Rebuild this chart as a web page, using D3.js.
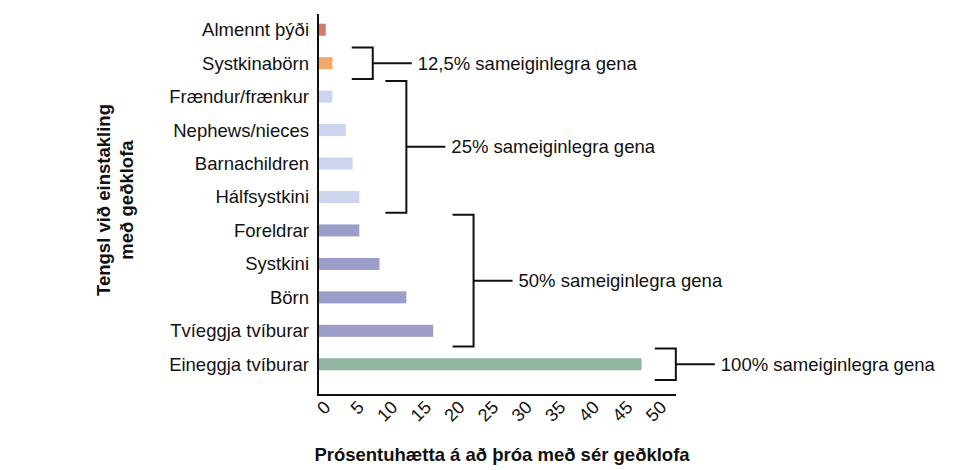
<!DOCTYPE html>
<meta charset="utf-8">
<script src="https://d3js.org/d3.v7.min.js"></script>
<style>
  body { margin: 0; background: #fff; }
  text { font-family: "Liberation Sans", Arial, sans-serif; fill: #111; }
</style>
<div id="chart"></div>
<script>
const categories = ["Almennt þýði", "Systkinabörn", "Frændur/frænkur", "Nephews/nieces", "Barnachildren",
  "Hálfsystkini", "Foreldrar", "Systkini", "Börn", "Tvíeggja tvíburar", "Eineggja tvíburar"];
const risk = [1, 2, 2, 4, 5, 6, 6, 9, 13, 17, 48];
const colors = ["#d27a6c", "#f2a86a", "#ccd4ee", "#ccd4ee", "#ccd4ee", "#ccd4ee",
  "#9d9dcc", "#9d9dcc", "#9d9dcc", "#9d9dcc", "#90b6a1"];
const xTicks = [0, 5, 10, 15, 20, 25, 30, 35, 40, 45, 50];
// groups: first/last row index, bracket x (data units), label
const groups = [
  {from: 1, to: 1, at: 8, label: "12,5% sameiginlegra gena"},
  {from: 2, to: 5, at: 13, label: "25% sameiginlegra gena"},
  {from: 6, to: 9, at: 23, label: "50% sameiginlegra gena"},
  {from: 10, to: 10, at: 53.1, label: "100% sameiginlegra gena"}
];

const W = 975, H = 470;
const svg = d3.select("#chart").append("svg").attr("width", W).attr("height", H);

const x = d3.scaleLinear().domain([0, 50]).range([319, 655]);
const y = d3.scaleBand().domain(categories).range([13, 381]).paddingInner(0.64).paddingOuter(0.32);

svg.selectAll("rect.bar").data(categories).join("rect")
  .attr("class", "bar")
  .attr("x", x(0))
  .attr("y", d => y(d))
  .attr("width", (d, i) => x(risk[i]) - x(0))
  .attr("height", y.bandwidth())
  .attr("fill", (d, i) => colors[i]);

// axes lines
svg.append("line").attr("x1", 318).attr("x2", 318).attr("y1", 14).attr("y2", 395)
  .attr("stroke", "#111").attr("stroke-width", 2);
svg.append("line").attr("x1", 317).attr("x2", 676).attr("y1", 395).attr("y2", 395)
  .attr("stroke", "#111").attr("stroke-width", 2);

// category labels
svg.selectAll("text.cat").data(categories).join("text")
  .attr("class", "cat")
  .attr("x", 309)
  .attr("y", d => y(d) + y.bandwidth() / 2)
  .attr("dy", "0.35em")
  .attr("text-anchor", "end")
  .attr("font-size", 18.5)
  .text(d => d);

// x tick labels
svg.selectAll("text.tick").data(xTicks).join("text")
  .attr("class", "tick")
  .attr("transform", d => `translate(${x(d) + 8},${404}) rotate(-45)`)
  .attr("text-anchor", "end")
  .attr("dy", "0.35em")
  .attr("font-size", 18)
  .text(d => d);

// brackets
const step = y.step();
groups.forEach(g => {
  const y0 = y(categories[g.from]) + y.bandwidth() / 2 - step * 0.47;
  const y1 = y(categories[g.to]) + y.bandwidth() / 2 + step * 0.47;
  const bx = x(g.at);
  const path = d3.path();
  path.moveTo(bx - 21, y0); path.lineTo(bx, y0); path.lineTo(bx, y1); path.lineTo(bx - 21, y1);
  path.moveTo(bx, (y0 + y1) / 2); path.lineTo(bx + 39, (y0 + y1) / 2);
  svg.append("path").attr("d", path.toString()).attr("fill", "none")
    .attr("stroke", "#111").attr("stroke-width", 2);
  svg.append("text").attr("x", bx + 45).attr("y", (y0 + y1) / 2).attr("dy", "0.35em")
    .attr("font-size", 18.5).text(g.label);
});

// axis titles
svg.append("text").attr("x", 502).attr("y", 461).attr("text-anchor", "middle")
  .attr("font-size", 18.5).attr("font-weight", "bold")
  .text("Prósentuhætta á að þróa með sér geðklofa");
const yt = svg.append("text").attr("transform", "translate(110,200) rotate(-90)")
  .attr("text-anchor", "middle").attr("font-size", 18.5).attr("font-weight", "bold");
yt.append("tspan").attr("x", 0).attr("dy", 0).text("Tengsl við einstakling");
yt.append("tspan").attr("x", 0).attr("dy", "1.25em").text("með geðklofa");
</script>
